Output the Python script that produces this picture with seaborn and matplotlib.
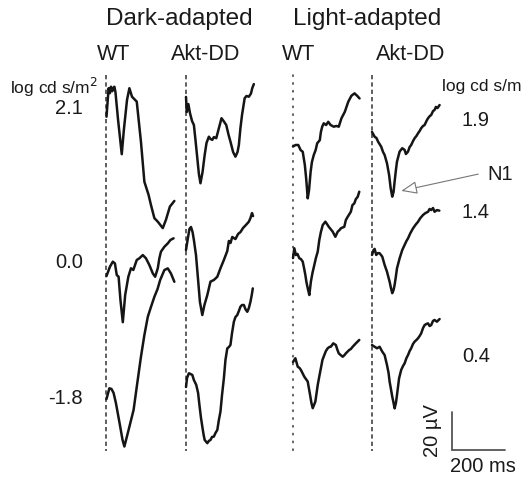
import matplotlib
matplotlib.use("Agg")
import matplotlib.pyplot as plt
import pandas as pd
import seaborn as sns
from matplotlib.patches import FancyArrowPatch

sns.set_theme(style="white")
plt.rcParams["font.family"] = ["Liberation Sans", "DejaVu Sans"]

# ---- ERG traces: time after flash (ms) and amplitude re. baseline (µV) ----
# Dark-adapted, WT
da_wt_21_t = [0, 8, 13, 17, 22, 27, 30, 34, 44, 58, 66, 78, 87, 97, 115, 131, 144, 160, 169, 182, 195, 214, 226, 241, 258]
da_wt_21_v = [0, 15.1, 12.5, 15.9, 13.5, 15.5, 15.9, 13.1, -1.7, -19.9, -7.0, 8.9, 15.1, 10.6, 8.0, -13.3, -34.5, -41.5, -46.8, -53.8, -55.7, -59.1, -54.7, -47.7, -44.7]
da_wt_00_t = [0, 13, 24, 32, 39, 46, 53, 62, 71, 83, 93, 102, 115, 125, 138, 150, 163, 176, 185, 195, 201, 207, 220, 233, 243, 255]
da_wt_00_v = [0, 4.9, 7.6, 6.7, 0.5, -0.4, -12.7, -24.5, -10.1, -0.4, 4.1, 3.2, 8.5, 9.4, 11.1, 9.4, 5.8, 1.4, -0.4, 4.1, 9.4, 12.9, 15.5, 17.3, 19.1, 20.0]
da_wt_18_t = [0, 11, 19, 27, 36, 51, 61, 68, 82, 103, 116, 131, 144, 157, 169, 182, 194, 204, 220, 233, 245, 258]
da_wt_18_v = [0, 5.7, 5.3, 3.2, -2.3, -13.8, -21.7, -25.2, -17.5, -5.8, 7.4, 22.4, 33.9, 43.6, 48.8, 54.2, 58.3, 63.1, 68.4, 69.3, 66.6, 62.2]

# Dark-adapted, Akt-DD
da_akt_21_t = [0, 3, 9, 15, 23, 30, 36, 43, 49, 55, 63, 71, 78, 87, 93, 100, 106, 115, 125, 135, 143, 153, 162, 169, 179, 188, 196, 201, 207, 213, 223, 230, 239, 247, 252, 258]
da_akt_21_v = [8.0, 0, 4.2, -0.5, -4.8, -6.9, -14.8, -24.5, -32.9, -37.8, -31.8, -22.8, -16.4, -13.1, -14.3, -14.8, -13.3, -13.9, -8.6, -3.3, -4.8, -6.9, -12.2, -15.7, -21.2, -23.7, -21.2, -17.5, -8.5, -1.6, 7.3, 8.5, 8.1, 9.8, 12.7, 14.8]
da_akt_00_t = [0, 6, 13, 19, 25, 30, 38, 46, 53, 62, 70, 81, 93, 106, 119, 131, 144, 157, 163, 169, 176, 188, 198, 207, 217, 226, 239, 245, 251, 255]
da_akt_00_v = [0, 5.3, 11.1, 12.2, 9.5, 5.3, -2.7, -15.9, -27.6, -34.5, -29.2, -23.9, -16.8, -15.9, -14.2, -9.7, -5.3, -0.5, 4.8, 3.7, 6.9, 5.8, 8.5, 9.5, 11.7, 13.0, 15.0, 16.9, 19.6, 18.0]
da_akt_18_t = [0, 4, 11, 17, 24, 30, 39, 46, 51, 57, 62, 67, 71, 81, 87, 93, 99, 106, 112, 119, 125, 131, 137, 144, 150, 157, 163, 169, 175, 182, 188, 195, 201, 207, 213, 220, 226, 233, 239, 245, 250, 254]
da_akt_18_v = [0, 4.8, 7.3, 6.9, 6.4, 3.7, 1.1, -3.2, -9.5, -16.4, -21.0, -25.4, -28.1, -29.8, -28.6, -28.1, -26.5, -26.3, -24.4, -22.8, -17.5, -13.1, -4.2, 4.6, 14.3, 20.5, 21.2, 22.3, 28.6, 34.6, 37.1, 38.2, 40.3, 42.6, 43.5, 43.5, 41.3, 39.9, 41.9, 45.2, 48.8, 52.3]

# Light-adapted, WT
la_wt_19_t = [0, 10, 20, 29, 37, 45, 50, 56, 61, 67, 72, 79, 86, 92, 102, 106, 111, 117, 126, 134, 143, 155, 165, 174, 184, 197, 210, 222, 234, 244, 253]
la_wt_19_v = [0, 0.8, 0.8, -1.9, -2.8, -9.8, -16.9, -27.5, -23.1, -13.4, -8.2, -4.5, -1.9, 1.7, 3.4, 7.7, 10.5, 12.3, 11.4, 13.1, 11.4, 10.5, 10.9, 10.5, 14.9, 18.4, 23.7, 26.9, 28.2, 26.9, 25.5]
la_wt_14_t = [0, 5, 11, 17, 24, 30, 37, 42, 47, 51, 56, 62, 68, 74, 81, 87, 94, 100, 106, 113, 123, 129, 136, 143, 151, 161, 170, 177, 182, 195, 201, 208, 220, 226, 233, 239, 246, 252]
la_wt_14_v = [-1.1, 4.1, 0.5, 1.1, -1.2, -1.6, -3.0, -6.4, -10.1, -13.8, -17.1, -20.7, -13.6, -9.0, -4.8, -1.1, 2.3, 8.5, 12.7, 16.4, 18.2, 17.0, 15.5, 14.3, 12.9, 10.2, 12.9, 13.8, 14.7, 15.5, 19.1, 20.8, 23.5, 27.0, 27.9, 30.2, 31.4, 34.1]
la_wt_04_t = [0, 9, 18, 25, 30, 43, 56, 65, 70, 75, 85, 94, 101, 106, 112, 119, 125, 132, 139, 144, 153, 163, 169, 174, 181, 189, 196, 201, 214, 220, 227, 239, 252]
la_wt_04_v = [0, 2.0, -2.5, -3.2, -4.2, -7.8, -10.4, -17.5, -21.7, -24.5, -21.0, -12.2, -6.9, -3.3, 1.1, 3.7, 5.8, 7.3, 8.0, 8.1, 9.9, 9.0, 6.4, 4.6, 3.7, 2.8, 3.7, 4.6, 6.4, 6.9, 8.1, 9.9, 11.7]

# Light-adapted, Akt-DD
la_akt_19_t = [0, 10, 17, 23, 35, 42, 48, 57, 65, 71, 77, 82, 86, 91, 95, 105, 115, 124, 129, 137, 143, 149, 156, 162, 169, 175, 181, 187, 194, 200, 207, 213, 220, 225, 232, 238, 243, 249, 257]
la_akt_19_v = [0, -2.5, -3.2, -5.1, -7.8, -10.6, -12.2, -16.6, -22.8, -29.8, -34.3, -31.8, -26.3, -20.1, -15.7, -10.4, -8.6, -9.5, -11.7, -10.4, -8.0, -6.9, -4.8, -3.3, -2.1, -0.7, 0.5, 2.0, 3.2, 3.7, 5.8, 7.3, 8.5, 9.0, 11.1, 11.7, 13.3, 12.7, 14.3]
la_akt_14_t = [0, 6, 10, 16, 23, 29, 39, 48, 57, 67, 72, 77, 82, 86, 91, 95, 105, 115, 124, 131, 137, 146, 156, 165, 175, 184, 194, 203, 213, 219, 225, 232, 238, 247, 256]
la_akt_14_v = [-0.5, 2.1, 2.7, -0.5, 0.5, 0.4, -1.4, -5.8, -9.4, -14.7, -18.0, -20.8, -19.1, -16.4, -11.7, -7.6, -2.3, 2.1, 4.8, 6.9, 8.3, 11.1, 13.6, 15.4, 17.1, 19.1, 20.7, 21.7, 22.4, 23.9, 23.3, 24.4, 22.4, 23.3, 23.0]
la_akt_04_t = [0, 10, 19, 29, 39, 48, 57, 63, 67, 72, 77, 82, 86, 91, 95, 103, 111, 118, 124, 131, 137, 143, 149, 156, 162, 169, 175, 181, 187, 194, 200, 207, 213, 219, 225, 232, 238, 247, 257]
la_akt_04_v = [0.5, -0.4, -1.2, -0.4, -3.0, -4.8, -10.1, -14.3, -18.9, -22.8, -26.9, -30.2, -33.1, -30.2, -26.0, -17.1, -12.7, -10.6, -9.2, -6.4, -4.8, -2.7, -1.2, 1.1, 2.3, 3.2, 4.1, 5.3, 6.7, 9.5, 11.1, 11.7, 12.0, 10.6, 11.1, 13.3, 13.8, 12.9, 14.3]

# Flash intensities (log cd s/m^2) labelling each row
da_intensities = ["2.1", "0.0", "-1.8"]
la_intensities = ["1.9", "1.4", "0.4"]
genotypes = ["WT", "Akt-DD"]

# Calibration bar
scale_ms = 200
scale_uv = 20

# ---- page layout (figure pixels) ----
W, H = 529, 478
MS_PER_PX = scale_ms / 52.6
UV_PER_PX = scale_uv / 37.7

col_x = {("DA", "WT"): 106.5, ("DA", "Akt-DD"): 186.0,
         ("LA", "WT"): 293.0, ("LA", "Akt-DD"): 372.0}
row_y = {("DA", "WT"): [116.7, 276.0, 399.0],
         ("DA", "Akt-DD"): [112.0, 250.0, 387.0],
         ("LA", "WT"): [146.5, 256.0, 362.0],
         ("LA", "Akt-DD"): [132.0, 254.0, 346.0]}


def to_data(px, py):
    """Figure pixel position -> axis units (ms, µV)."""
    return px * MS_PER_PX, -py * UV_PER_PX


traces = [
    ("DA", "WT", 0, da_wt_21_t, da_wt_21_v), ("DA", "WT", 1, da_wt_00_t, da_wt_00_v),
    ("DA", "WT", 2, da_wt_18_t, da_wt_18_v),
    ("DA", "Akt-DD", 0, da_akt_21_t, da_akt_21_v), ("DA", "Akt-DD", 1, da_akt_00_t, da_akt_00_v),
    ("DA", "Akt-DD", 2, da_akt_18_t, da_akt_18_v),
    ("LA", "WT", 0, la_wt_19_t, la_wt_19_v), ("LA", "WT", 1, la_wt_14_t, la_wt_14_v),
    ("LA", "WT", 2, la_wt_04_t, la_wt_04_v),
    ("LA", "Akt-DD", 0, la_akt_19_t, la_akt_19_v), ("LA", "Akt-DD", 1, la_akt_14_t, la_akt_14_v),
    ("LA", "Akt-DD", 2, la_akt_04_t, la_akt_04_v),
]

rows = []
for cond, geno, r, t, v in traces:
    x0, y0 = to_data(col_x[(cond, geno)], row_y[(cond, geno)][r])
    for ti, vi in zip(t, v):
        rows.append({"trace": f"{cond}-{geno}-{r}", "x": x0 + ti, "y": y0 + vi})
df = pd.DataFrame(rows)

fig = plt.figure(figsize=(W / 100, H / 100), dpi=100)
ax = fig.add_axes([0, 0, 1, 1])
ax.set_xlim(0, W * MS_PER_PX)
ax.set_ylim(-H * UV_PER_PX, 0)
ax.set_axis_off()

# flash-onset markers
for (cond, geno), cx in col_x.items():
    x, ytop = to_data(cx, 74.5)
    _, ybot = to_data(cx, 451)
    if cond == "LA" and geno == "WT":
        ax.plot([x, x], [ytop, ybot], color="#333333", lw=1.1,
                dashes=(0.9, 4.2), dash_capstyle="round", solid_capstyle="butt")
    else:
        ax.plot([x, x], [ytop, ybot], color="#333333", lw=1.1, dashes=(2.8, 2.0))

sns.lineplot(data=df, x="x", y="y", units="trace", estimator=None, sort=False,
             color="#151515", lw=1.8, legend=False, ax=ax)
ax.set_xlabel("")
ax.set_ylabel("")
ax.set_axis_off()


def label(px, py, s, size, **kw):
    x, y = to_data(px, py)
    ax.text(x, y, s, fontsize=size, color="#1a1a1a", **kw)


title = 17.5
big = 15.5
num = 14.5
label(179, 19, "Dark-adapted", title, ha="center", va="center")
label(367, 19, "Light-adapted", title, ha="center", va="center")
label(114, 55, genotypes[0], big, ha="center", va="center")
label(206, 55, genotypes[1], big, ha="center", va="center")
label(299, 55, genotypes[0], big, ha="center", va="center")
label(411, 55, genotypes[1], big, ha="center", va="center")

label(10, 87, "log cd s/m$^2$", 12.5, ha="left", va="center")
label(442, 86, "log cd s/m", 12.5, ha="left", va="center")

for s, py in zip(da_intensities, [108, 262, 398]):
    label(83, py, s, num, ha="right", va="center")
for s, py in zip(la_intensities, [120, 213, 356]):
    label(462, py, s, num, ha="left", va="center")

label(500, 175, "N1", num, ha="center", va="center")
arrow = FancyArrowPatch(to_data(481, 173.5), to_data(398.5, 191.5),
                        arrowstyle="-|>,head_length=0.7,head_width=0.28",
                        mutation_scale=14, lw=0.8, ec="#777777", fc="white")
ax.add_patch(arrow)

# calibration bar
bx, by = to_data(452, 450)
ax.plot([bx, bx, bx + scale_ms], [by + scale_uv, by, by], color="#555555", lw=1.3,
        solid_joinstyle="miter")
label(433, 431, f"{scale_uv} µV", num, ha="center", va="center", rotation=90)
label(483, 467, f"{scale_ms} ms", num, ha="center", va="center")

fig.savefig("out.png", dpi=100, facecolor="white")
